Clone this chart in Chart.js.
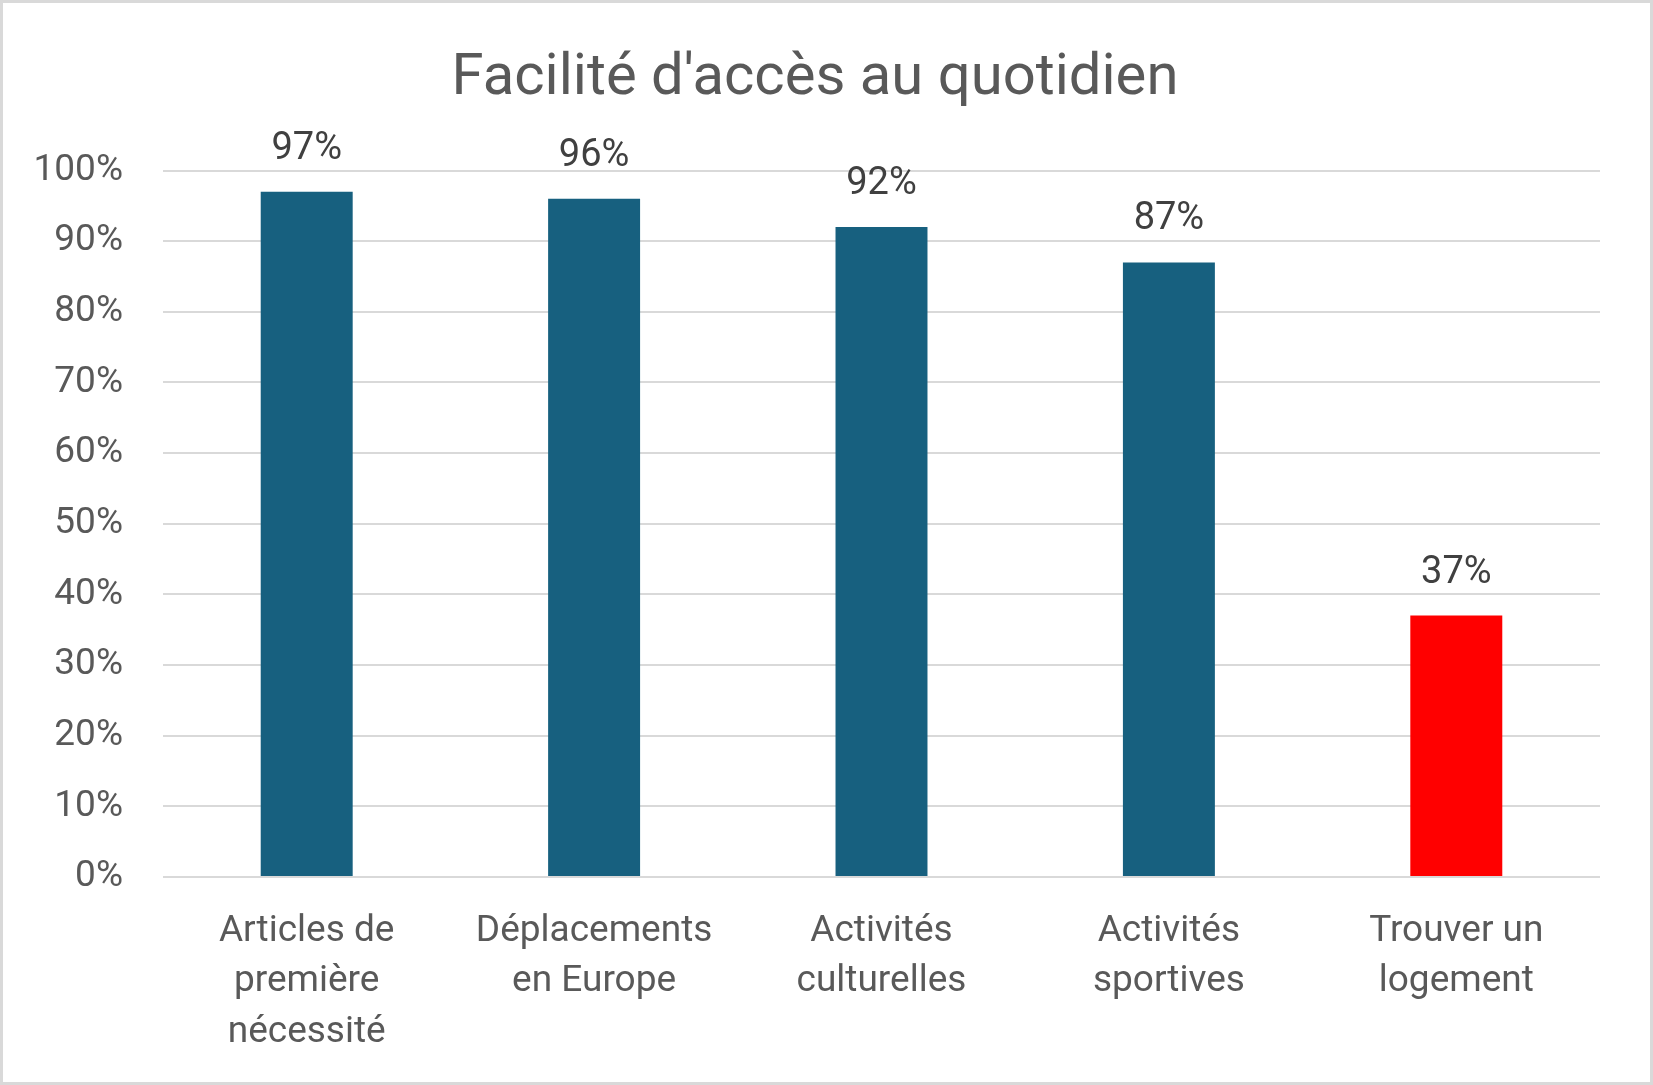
<!DOCTYPE html>
<html>
<head>
<meta charset="utf-8">
<script src="https://cdn.jsdelivr.net/npm/chart.js@4/dist/chart.umd.min.js"></script>
<style>
  html, body { margin: 0; padding: 0; background: #fff; }
  #wrap { width: 1653px; height: 1085px; }
</style>
</head>
<body>
<div id="wrap"><canvas id="chart-area" width="1653" height="1085"></canvas></div>
<script>
// data
var categories = [
  ['Articles de', 'première', 'nécessité'],
  ['Déplacements', 'en Europe'],
  ['Activités', 'culturelles'],
  ['Activités', 'sportives'],
  ['Trouver un', 'logement']
];
var values = [97, 96, 92, 87, 37];
var barColors = ['#17607F', '#17607F', '#17607F', '#17607F', '#FF0000'];
var yTicks = [0, 10, 20, 30, 40, 50, 60, 70, 80, 90, 100];

var FONT = 'Roboto, "Liberation Sans", sans-serif';

// value labels above the bars
var valueLabels = {
  id: 'valueLabels',
  afterDatasetsDraw: function(chart) {
    var ctx = chart.ctx;
    var meta = chart.getDatasetMeta(0);
    ctx.save();
    ctx.font = '38px ' + FONT;
    ctx.fillStyle = '#404040';
    ctx.textAlign = 'center';
    ctx.textBaseline = 'alphabetic';
    meta.data.forEach(function(bar, i) {
      ctx.fillText(values[i] + '%', bar.x, bar.y - 33);
    });
    ctx.restore();
  }
};

// thin grey frame around the whole picture
var frame = {
  id: 'frame',
  afterDraw: function(chart) {
    var ctx = chart.ctx;
    ctx.save();
    ctx.strokeStyle = '#D9D9D9';
    ctx.lineWidth = 3;
    ctx.strokeRect(1.5, 1.5, chart.width - 3, chart.height - 3);
    ctx.restore();
  }
};

var config = {
  type: 'bar',
  data: {
    labels: categories,
    datasets: [{
      data: values,
      backgroundColor: barColors,
      barPercentage: 0.32,
      categoryPercentage: 1.0
    }]
  },
  options: {
    responsive: false,
    animation: false,
    layout: {
      padding: { top: 45, left: 30, right: 53, bottom: 6 }
    },
    plugins: {
      legend: { display: false },
      tooltip: { enabled: false },
      title: {
        display: true,
        text: "Facilité d'accès au quotidien",
        color: '#595959',
        font: { family: FONT, size: 58, weight: 'normal' },
        padding: { top: 0, bottom: 56 }
      }
    },
    scales: {
      x: {
        grid: { display: false },
        border: { display: false },
        afterFit: function(axis) {
          axis.paddingLeft = 0;
          axis.paddingRight = 0;
        },
        ticks: {
          color: '#595959',
          font: { family: FONT, size: 37, lineHeight: 1.37 },
          padding: 21,
          maxRotation: 0,
          autoSkip: false
        }
      },
      y: {
        min: 0,
        max: 100,
        afterBuildTicks: function(axis) {
          axis.ticks = yTicks.map(function(v) { return { value: v }; });
        },
        afterFit: function(axis) {
          axis.width = 133;
        },
        grid: { color: '#D9D9D9', lineWidth: 2, drawTicks: false },
        border: { display: false },
        ticks: {
          color: '#595959',
          font: { family: FONT, size: 37 },
          padding: 40,
          callback: function(v) { return v + '%'; }
        }
      }
    }
  },
  plugins: [valueLabels, frame]
};

window.onload = function() {
  var ctx = document.getElementById('chart-area').getContext('2d');
  window.myBar = new Chart(ctx, config);
};
</script>
</body>
</html>
